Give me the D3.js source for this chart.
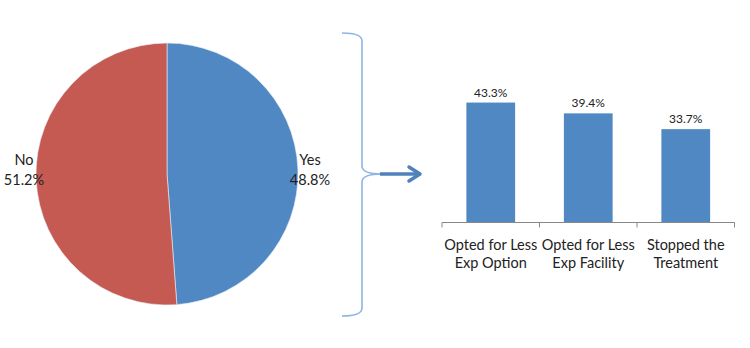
<!DOCTYPE html>
<html>
<head>
<meta charset="utf-8">
<script src="https://cdn.jsdelivr.net/npm/d3@7"></script>
<style>
  body { margin: 0; background: #fff; }
  svg { display: block; font-family: Lato, "Open Sans", sans-serif; }
</style>
</head>
<body>
<svg id="chart" width="750" height="348"></svg>
<script>
// pie data
const pieLabels = ["Yes", "No"]
const pieValues = [48.8, 51.2]
const pieColors = ["#5088c4", "#c55a52"]

// bar data
const barCategories = [["Opted for Less", "Exp Option"], ["Opted for Less", "Exp Facility"], ["Stopped the", "Treatment"]]
const barValues = [43.3, 39.4, 33.7]

const svg = d3.select("#chart")

// ---- pie ----
const cx = 167, cy = 174, r = 131
const pie = d3.pie().sort(null).value(d => d)
const arcs = pie(pieValues)
const arc = d3.arc().innerRadius(0).outerRadius(r)
const gPie = svg.append("g").attr("transform", `translate(${cx},${cy})`)
gPie.selectAll("path")
    .data(arcs)
    .join("path")
    .attr("d", arc)
    .attr("fill", (d, i) => pieColors[i])
    .attr("stroke", "#e8eef6")
    .attr("stroke-width", 0.6)

const labelPos = [[143, -9], [-143, -9]]
arcs.forEach((d, i) => {
    const t = gPie.append("text")
        .attr("x", labelPos[i][0])
        .attr("y", labelPos[i][1])
        .attr("text-anchor", "middle")
        .attr("font-size", 14.5)
        .attr("fill", "#222")
    t.append("tspan").attr("x", labelPos[i][0]).text(pieLabels[i])
    t.append("tspan").attr("x", labelPos[i][0]).attr("dy", 20).text(d3.format(".1f")(pieValues[i]) + "%")
})

// ---- bracket + arrow ----
const bx = 362, bTop = 33, bBottom = 316, mid = 174
svg.append("path")
    .attr("d", `M342,${bTop} Q${bx},${bTop} ${bx},${bTop + 8} L${bx},${mid - 8} Q${bx},${mid} ${bx + 20},${mid}
                M${bx + 20},${mid} Q${bx},${mid} ${bx},${mid + 8} L${bx},${bBottom - 8} Q${bx},${bBottom} 342,${bBottom}`)
    .attr("fill", "none")
    .attr("stroke", "#8eb4e3")
    .attr("stroke-width", 1.6)

svg.append("line")
    .attr("x1", 380).attr("y1", mid).attr("x2", 418).attr("y2", mid)
    .attr("stroke", "#4f81bd").attr("stroke-width", 3.5)
svg.append("path")
    .attr("d", `M409,${mid - 7} L420,${mid} L409,${mid + 7}`)
    .attr("fill", "none")
    .attr("stroke", "#4f81bd").attr("stroke-width", 3.5)
    .attr("stroke-linecap", "round").attr("stroke-linejoin", "round")

// ---- bars ----
const x = d3.scaleBand()
    .domain(d3.range(barValues.length))
    .range([442, 734.5])
    .paddingInner(0.5)
    .paddingOuter(0.25)
const y = d3.scaleLinear().domain([0, 50]).range([222.5, 84])

svg.append("g")
    .selectAll("rect")
    .data(barValues)
    .join("rect")
    .attr("x", (d, i) => x(i))
    .attr("y", d => y(d))
    .attr("width", x.bandwidth())
    .attr("height", d => y(0) - y(d))
    .attr("fill", "#5088c4")

svg.append("g")
    .selectAll("text")
    .data(barValues)
    .join("text")
    .attr("x", (d, i) => x(i) + x.bandwidth() / 2)
    .attr("y", d => y(d) - 6)
    .attr("text-anchor", "middle")
    .attr("font-size", 12)
    .attr("fill", "#222")
    .text(d => d3.format(".1f")(d) + "%")

// axis line with ticks at band edges
const axisG = svg.append("g").attr("stroke", "#888").attr("stroke-width", 1)
axisG.append("line").attr("x1", 442).attr("x2", 734.5).attr("y1", y(0)).attr("y2", y(0))
d3.range(barValues.length + 1).forEach(i => {
    const tx = 442 + i * (292.5 / barValues.length)
    axisG.append("line").attr("x1", tx).attr("x2", tx).attr("y1", y(0)).attr("y2", y(0) + 5)
})

const catG = svg.append("g")
barCategories.forEach((lines, i) => {
    const t = catG.append("text")
        .attr("text-anchor", "middle")
        .attr("font-size", 14.5)
        .attr("fill", "#222")
        .attr("y", 250)
    lines.forEach((s, j) => {
        t.append("tspan")
            .attr("x", x(i) + x.bandwidth() / 2)
            .attr("dy", j === 0 ? 0 : 18)
            .text(s)
    })
})
</script>
</body>
</html>
